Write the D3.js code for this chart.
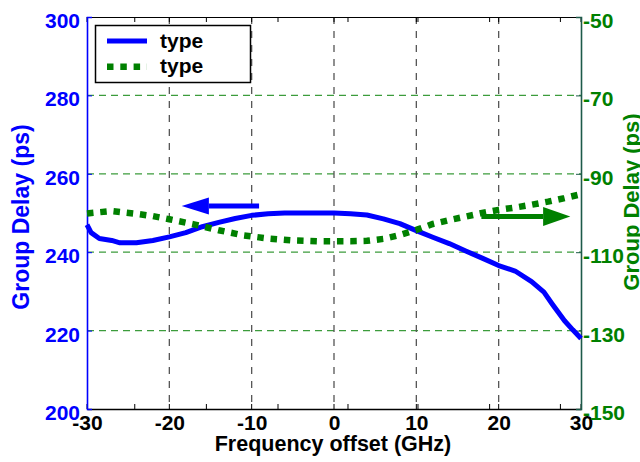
<!DOCTYPE html>
<html><head><meta charset="utf-8">
<script src="https://cdn.jsdelivr.net/npm/d3@7"></script>
<style>
html,body{margin:0;padding:0;background:#fff;}
svg{display:block;font-family:"Liberation Sans",Arial,sans-serif;font-weight:bold;}
</style></head>
<body><svg id="c" width="640" height="462"></svg>
<script>
// ---- data ----
const xTicks = [-30,-20,-10,0,10,20,30];
const xMinorTicks = [-24.2,-15.5,-6.8,1.7,10.2,18.9,27.5];
const leftTicks = [200,220,240,260,280,300];
const rightTicks = [-150,-130,-110,-90,-70,-50];
const blueX = [-30,-29.5,-28.5,-27,-26,-24,-22,-20,-18,-16,-14,-12,-10,-8,-6,-4,-2,0,2,4,6,8,10,12,14,16,18,20,22,24,25.5,26.5,28,29,30];
const blueY = [247,245,243.5,243,242.4,242.4,243,243.9,245,246.5,247.6,248.6,249.4,249.8,250,250,250,250,249.8,249.5,248.5,247.3,245.5,243.8,242.2,240.3,238.5,236.6,235.2,232.5,229.8,226.8,222.5,220.2,218];
const greenX = [-30,-27,-24,-22,-20,-17,-14,-11,-8,-5,-2,0,2,4,6,8,10,12,14,16,18,20,22,24,26,28,30];
const greenY = [-100.1,-99.5,-100.2,-100.8,-101.6,-102.9,-104.4,-105.7,-106.5,-107,-107.2,-107.2,-107.2,-107.1,-106.6,-105.6,-104.3,-102.8,-101.8,-100.9,-100,-99.2,-98.6,-97.9,-97.1,-96.2,-95.2];
const legendLabels = ["type","type"];
const xTitle = "Frequency offset (GHz)";
const leftTitle = "Group Delay (ps)";
const rightTitle = "Group Delay (ps)";
// arrows: [tailX, headBaseX, tipX, y] in data units
const blueArrow = [-9.1,-15.2,-18.5,251.8];
const greenArrow = [17.9,25.4,28.7,-100.9];

// ---- scales ----
const L=87,R=581,T=17,B=409;
const x = d3.scaleLinear().domain([-30,30]).range([L,R]);
const yL = d3.scaleLinear().domain([200,300]).range([B,T]);
const yR = d3.scaleLinear().domain([-150,-50]).range([B,T]);
const BLUE="#0000ff", GREEN="#008000", GRIDG="#3c9c3c";
const FONT="'Liberation Sans',Arial,sans-serif";
const fmt = d=>String(d);

const svg = d3.select("#c");

// horizontal grid (green dashed)
svg.append("g").selectAll("line").data(leftTicks.slice(1,-1)).join("line")
  .attr("x1",L).attr("x2",R).attr("y1",d=>yL(d)).attr("y2",d=>yL(d))
  .attr("stroke",GRIDG).attr("stroke-width",1.2).attr("stroke-dasharray","7,5");
// vertical grid (gray dashed)
svg.append("g").selectAll("line").data(xTicks.slice(1,-1)).join("line")
  .attr("x1",d=>x(d)).attr("x2",d=>x(d)).attr("y1",T).attr("y2",B)
  .attr("stroke","#555").attr("stroke-width",1.3).attr("stroke-dasharray","7,7");

// frame top
svg.append("line").attr("x1",L).attr("x2",R).attr("y1",T+0.5).attr("y2",T+0.5).attr("stroke","#000").attr("stroke-width",1);
// bottom axis
const xAxis = d3.axisBottom(x).tickValues(xTicks).tickSize(0).tickPadding(6).tickFormat(fmt);
const gx = svg.append("g").attr("transform",`translate(0,${B})`).call(xAxis);
gx.select(".domain").attr("stroke","#000").attr("stroke-width",1.6);
gx.selectAll("text").attr("font-size",21).attr("font-family",FONT).attr("font-weight","bold").attr("fill","#000").attr("dy","0.71em");
// minor ticks (bottom & top, inward)
svg.append("g").selectAll("line").data(xMinorTicks.concat(xTicks)).join("line")
  .attr("x1",d=>x(d)).attr("x2",d=>x(d)).attr("y1",B).attr("y2",B-5).attr("stroke","#000").attr("stroke-width",1);
svg.append("g").selectAll("line").data(xMinorTicks.concat(xTicks)).join("line")
  .attr("x1",d=>x(d)).attr("x2",d=>x(d)).attr("y1",T).attr("y2",T+5).attr("stroke","#000").attr("stroke-width",1);

// left axis
const gl = svg.append("g").attr("transform",`translate(${L},0)`).call(d3.axisLeft(yL).tickValues(leftTicks).tickSize(-5).tickPadding(7).tickFormat(fmt));
gl.select(".domain").attr("stroke",BLUE).attr("stroke-width",1.6);
gl.selectAll(".tick line").attr("stroke",BLUE);
gl.selectAll("text").attr("font-size",21).attr("font-family",FONT).attr("font-weight","bold").attr("fill",BLUE).attr("dy","0.5em");
// right axis
const gr = svg.append("g").attr("transform",`translate(${R},0)`).call(d3.axisRight(yR).tickValues(rightTicks).tickSize(-5).tickPadding(2).tickFormat(fmt));
gr.select(".domain").attr("stroke","#1d5a4a").attr("stroke-width",1.6);
gr.selectAll(".tick line").attr("stroke","#1d5a4a");
gr.selectAll("text").attr("font-size",21).attr("font-family",FONT).attr("font-weight","bold").attr("fill",GREEN).attr("dy","0.5em");

// lines
const blueLine = d3.line().x((d,i)=>x(blueX[i])).y(d=>yL(d));
svg.append("path").attr("d",blueLine(blueY)).attr("fill","none").attr("stroke",BLUE).attr("stroke-width",5).attr("stroke-linejoin","round");
const greenLine = d3.line().x((d,i)=>x(greenX[i])).y(d=>yR(d));
svg.append("path").attr("d",greenLine(greenY)).attr("fill","none").attr("stroke",GREEN).attr("stroke-width",6.5).attr("stroke-dasharray","6.5,6.8");

// arrows
function arrow(a, ys, color, hh){
  const y = ys(a[3]);
  svg.append("line").attr("x1",x(a[0])).attr("x2",x(a[1])).attr("y1",y).attr("y2",y).attr("stroke",color).attr("stroke-width",5);
  svg.append("path").attr("d",`M${x(a[2])},${y}L${x(a[1])},${y-hh}L${x(a[1])},${y+hh}Z`).attr("fill",color);
}
arrow(blueArrow,yL,BLUE,8.5);
arrow(greenArrow,yR,GREEN,9.5);

// legend
const lg = svg.append("g");
lg.append("rect").attr("x",95.5).attr("y",25.5).attr("width",155).attr("height",57).attr("fill","#fff").attr("stroke","#000").attr("stroke-width",1.5);
const legendStyles = [{c:BLUE,w:5,d:null},{c:GREEN,w:6.5,d:"6.5,6.8"}];
legendLabels.forEach((t,i)=>{
  const yy = 41 + i*25.7;
  const ln = lg.append("line").attr("x1",107).attr("x2",147).attr("y1",yy).attr("y2",yy).attr("stroke",legendStyles[i].c).attr("stroke-width",legendStyles[i].w);
  if(legendStyles[i].d) ln.attr("stroke-dasharray",legendStyles[i].d);
  lg.append("text").attr("x",160).attr("y",yy+6.5).attr("font-size",21).text(t);
});

// titles
svg.append("text").attr("x",333).attr("y",451).attr("text-anchor","middle").attr("font-size",21.5).text(xTitle);
svg.append("text").attr("transform",`translate(29,217) rotate(-90)`).attr("text-anchor","middle").attr("font-size",23).attr("fill",BLUE).text(leftTitle);
svg.append("text").attr("transform",`translate(639,202) rotate(-90)`).attr("text-anchor","middle").attr("font-size",22).attr("fill",GREEN).text(rightTitle);
</script></body></html>
